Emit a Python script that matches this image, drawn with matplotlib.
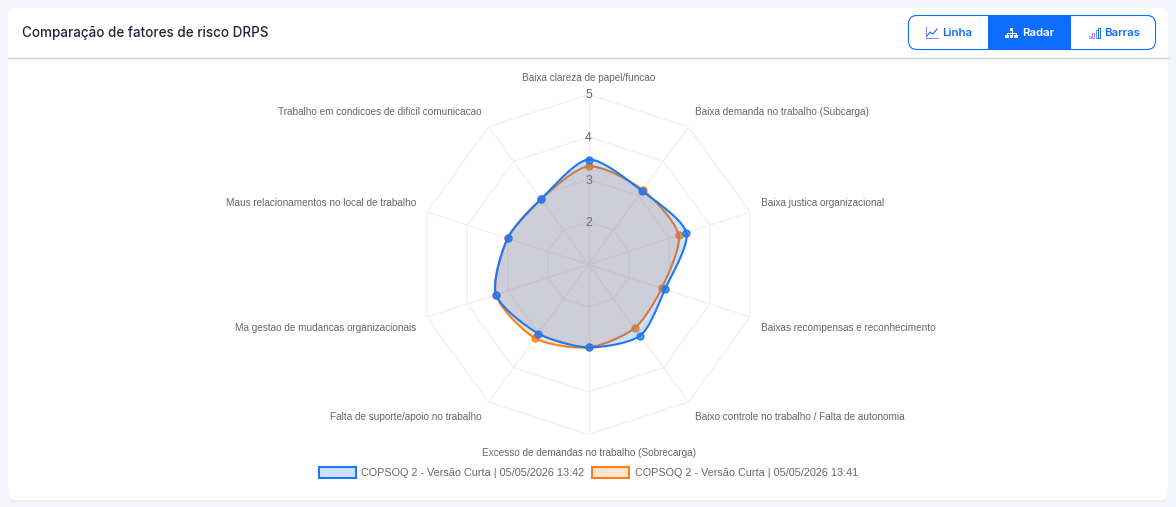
import numpy as np
import matplotlib
matplotlib.use("Agg")
import matplotlib.pyplot as plt
from matplotlib.patches import FancyBboxPatch, Rectangle, Patch

categories = [
    "Baixa clareza de papel/funcao",
    "Baixa demanda no trabalho (Subcarga)",
    "Baixa justica organizacional",
    "Baixas recompensas e reconhecimento",
    "Baixo controle no trabalho / Falta de autonomia",
    "Excesso de demandas no trabalho (Sobrecarga)",
    "Falta de suporte/apoio no trabalho",
    "Ma gestao de mudancas organizacionais",
    "Maus relacionamentos no local de trabalho",
    "Trabalho em condicoes de dificil comunicacao",
]
series_blue = [3.47, 3.14, 3.42, 2.89, 3.07, 2.95, 3.01, 3.29, 3.00, 2.90]
series_orange = [3.31, 3.17, 3.23, 2.81, 2.85, 2.95, 3.14, 3.29, 3.00, 2.90]
label_blue = "COPSOQ 2 - Versão Curta | 05/05/2026 13:42"
label_orange = "COPSOQ 2 - Versão Curta | 05/05/2026 13:41"
r_ticks = [1, 2, 3, 4, 5]
title = "Comparação de fatores de risco DRPS"
buttons = ["Linha", "Radar", "Barras"]

W, H = 1176, 507
BLUE = "#0d6efd"
ORANGE = "#fd7e14"
LINE_BLUE = "#1f77f2"
UI = "Inter"

fig = plt.figure(figsize=(W / 100, H / 100), dpi=100, facecolor="#f4f5fb")

# page chrome in pixel coordinates
ui = fig.add_axes([0, 0, 1, 1], zorder=0)
ui.set_xlim(0, W)
ui.set_ylim(H, 0)
ui.axis("off")
ui.add_patch(FancyBboxPatch((8, 8), 1160, 494, boxstyle="round,pad=0,rounding_size=9",
                            fc="#e9eaf2", ec="none", transform=ui.transData))
ui.add_patch(FancyBboxPatch((8, 8), 1160, 492.5, boxstyle="round,pad=0,rounding_size=9",
                            fc="white", ec="none"))
ui.plot([8, 1168], [57.5, 57.5], color="#d6d6d8", lw=1)
ui.text(22, 33.5, title, fontsize=9.7, family=UI, weight=500, color="#212638",
        ha="left", va="center")

# button group
ui.add_patch(FancyBboxPatch((908.5, 15.5), 247, 34, boxstyle="round,pad=0,rounding_size=8.5",
                            fc="white", ec=BLUE, lw=0.8))
ui.add_patch(Rectangle((988, 15.5), 83, 34, fc=BLUE, ec="none"))
btn_x = [942, 1022, 1104]
btn_c = [BLUE, "white", BLUE]
for name, x, c in zip(buttons, btn_x, btn_c):
    ui.text(x, 33, name, fontsize=8.25, family=UI, weight=600, color=c, ha="left", va="center")
# line icon
ui.plot([925.5, 925.5, 937.5], [27, 38, 38], color="#8a8cf0", lw=0.8)
ui.plot([927, 930, 933, 937], [36, 32, 34, 29], color=BLUE, lw=0.8)
# org icon
for cx in (1007, 1011.5, 1016):
    ui.add_patch(Rectangle((cx - 1.6, 34.5), 3.2, 3, fc="white", ec="none"))
ui.add_patch(Rectangle((1009.8, 28), 3.4, 3, fc="white", ec="none"))
ui.plot([1007, 1007, 1016, 1016], [34.5, 32.8, 32.8, 34.5], color="white", lw=0.7)
ui.plot([1011.5, 1011.5], [31, 34.5], color="white", lw=0.7)
# bars icon
for x0, top, c in zip((1088.5, 1092, 1095.5, 1097.5), (35.5, 33, 30, 27.5),
                      ("#c58be8", "#a08cf0", "#6f8cf5", BLUE)):
    ui.add_patch(Rectangle((x0, top), 2, 38 - top, fc="none", ec=c, lw=0.7))

# radar
cx, cy, R = 588.5, 264.5, 170
ax = fig.add_axes([(cx - R) / W, (H - cy - R) / H, 2 * R / W, 2 * R / H],
                  projection="polar", zorder=1)
ax.patch.set_alpha(0)
ax.set_theta_zero_location("N")
ax.set_theta_direction(-1)
ax.set_rlim(r_ticks[0], r_ticks[-1])
ax.grid(False)
ax.set_xticks([])
ax.set_yticks([])
ax.spines["polar"].set_visible(False)

n = len(categories)
theta = np.arange(n) * 2 * np.pi / n
GRID = "#f0f0f0"
for t in theta:
    ax.plot([t, t], [r_ticks[0], r_ticks[-1]], color=GRID, lw=0.9, zorder=1)
for v in r_ticks[1:]:
    ax.plot(np.r_[theta, theta[0]], np.full(n + 1, v), color=GRID, lw=0.9, zorder=1)


def spline(values, tension=0.26, steps=24):
    """Chart.js style closed bezier through the data, returned as theta / r."""
    rho = np.asarray(values, float) - r_ticks[0]
    pts = np.c_[rho * np.sin(theta), rho * np.cos(theta)]
    out = []
    for i in range(n):
        p0, p1, p2, p3 = pts[i - 1], pts[i], pts[(i + 1) % n], pts[(i + 2) % n]
        d01, d12, d23 = [np.hypot(*(a - b)) for a, b in ((p0, p1), (p1, p2), (p2, p3))]
        c1 = p1 + tension * d12 / (d01 + d12) * (p2 - p0)
        c2 = p2 - tension * d12 / (d12 + d23) * (p3 - p1)
        u = np.linspace(0, 1, steps, endpoint=False)[:, None]
        out.append((1 - u) ** 3 * p1 + 3 * (1 - u) ** 2 * u * c1 + 3 * (1 - u) * u ** 2 * c2 + u ** 3 * p2)
    xy = np.vstack(out + [pts[:1]])
    return np.arctan2(xy[:, 0], xy[:, 1]), np.hypot(xy[:, 0], xy[:, 1]) + r_ticks[0]


for vals, fill, line, z in ((series_orange, ORANGE, ORANGE, 3), (series_blue, BLUE, LINE_BLUE, 5)):
    tt, rr = spline(vals)
    ax.fill(tt, rr, color=fill, alpha=0.2, lw=0, zorder=z)
    ax.plot(tt, rr, color=line, lw=1.5, zorder=z + 0.5, solid_joinstyle="round")
    ax.plot(theta, vals, ls="none", marker="o", ms=5, mfc=(*matplotlib.colors.to_rgb(line), 0.75),
            mec=line, mew=0.9, zorder=z + 0.6, clip_on=False)

for v in r_ticks[1:]:
    ax.annotate(str(v), xy=(0, v), xytext=(0, -0.72), textcoords="offset points",
                ha="center", va="center", fontsize=8.8, family="Liberation Sans",
                color="#666666", zorder=2, annotation_clip=False)

# category labels, offset from the outer ring tips (in pixels)
offsets = [(0, 16.5), (6.6, 14.5), (11, 8.5), (11, -10.5), (6.6, -14.5),
           (0, -18), (-6.6, -14.5), (-11, -10.5), (-11, 8.5), (-6.6, 14.5)]
for t, lab, off in zip(theta, categories, offsets):
    ha = "center" if off[0] == 0 else ("left" if off[0] > 0 else "right")
    ax.annotate(lab, xy=(t, r_ticks[-1]), xytext=(off[0] * 0.72, off[1] * 0.72),
                textcoords="offset points", ha=ha, va="center", fontsize=7.2,
                family="Liberation Sans", color="#666666", annotation_clip=False)

handles = [Patch(fc=(*matplotlib.colors.to_rgb(BLUE), 0.2), ec=LINE_BLUE, lw=1.5, label=label_blue),
           Patch(fc=(*matplotlib.colors.to_rgb(ORANGE), 0.2), ec=ORANGE, lw=1.5, label=label_orange)]
fig.legend(handles=handles, ncol=2, loc="center", bbox_to_anchor=(588.5 / W, (H - 472.5) / H),
           frameon=False, prop={"family": "Liberation Sans", "size": 7.85}, labelcolor="#666666",
           handlelength=3.4, handleheight=1.2, handletextpad=0.5, columnspacing=0.7,
           borderpad=0, borderaxespad=0)

fig.savefig("out.png", dpi=100, facecolor=fig.get_facecolor())
